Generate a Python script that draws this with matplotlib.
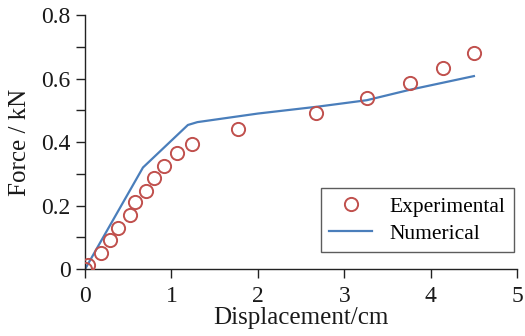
import matplotlib
matplotlib.use("Agg")
import matplotlib.pyplot as plt
from matplotlib.ticker import MultipleLocator, FuncFormatter

# measured load-displacement points
exp_disp = [0.0, 0.035, 0.185, 0.29, 0.38, 0.52, 0.58, 0.705, 0.80, 0.91, 1.06, 1.24, 1.77, 2.67, 3.26, 3.76, 4.14, 4.50]
exp_force = [0.0, 0.013, 0.050, 0.091, 0.129, 0.170, 0.211, 0.246, 0.287, 0.324, 0.365, 0.394, 0.441, 0.491, 0.539, 0.586, 0.633, 0.680]

# simulation curve
num_disp = [0.0, 0.67, 1.19, 1.30, 2.0, 2.7, 3.26, 3.76, 4.5]
num_force = [0.0, 0.32, 0.454, 0.463, 0.49, 0.512, 0.532, 0.565, 0.608]

plt.rcParams['font.family'] = ['Liberation Serif', 'DejaVu Serif']

fig = plt.figure(figsize=(5.25, 3.36), dpi=100)
ax = fig.add_axes([0.162, 0.199, 0.823, 0.756])

ax.plot(exp_disp, exp_force, linestyle='none', marker='o', markersize=9.5,
        markerfacecolor='none', markeredgecolor='#c0504d', markeredgewidth=1.4,
        label='Experimental', zorder=3)
ax.plot(num_disp, num_force, color='#4a7ebb', linewidth=1.6, label='Numerical')

ax.set_xlim(0, 5)
ax.set_ylim(0, 0.8)
ax.xaxis.set_major_locator(MultipleLocator(1))
ax.yaxis.set_major_locator(MultipleLocator(0.2))
ax.yaxis.set_minor_locator(MultipleLocator(0.1))
ax.yaxis.set_major_formatter(FuncFormatter(lambda v, p: '0' if abs(v) < 1e-9 else f'{v:.1f}'))

for s in ['top', 'right']:
    ax.spines[s].set_visible(False)
for s in ['left', 'bottom']:
    ax.spines[s].set_linewidth(1.0)
    ax.spines[s].set_color('#222222')

ax.tick_params(axis='both', which='both', direction='out', length=6.5, width=1.0,
               labelsize=17, colors='#222222', labelcolor='#1a1a1a')
ax.tick_params(axis='x', pad=6)
ax.tick_params(axis='y', pad=4)

ax.set_xlabel('Displacement/cm', fontsize=18, labelpad=0, color='#1a1a1a')
ax.set_ylabel('Force / kN', fontsize=18, labelpad=7, color='#1a1a1a')

leg = ax.legend(loc='lower right', bbox_to_anchor=(0.993, 0.067), fontsize=15.5,
                frameon=True, fancybox=False, edgecolor='#333333',
                handlelength=2.0, borderpad=0.4, labelspacing=0.3, handletextpad=0.8,
                borderaxespad=0)
leg.get_frame().set_linewidth(1.0)

fig.savefig('out.png', dpi=100)
